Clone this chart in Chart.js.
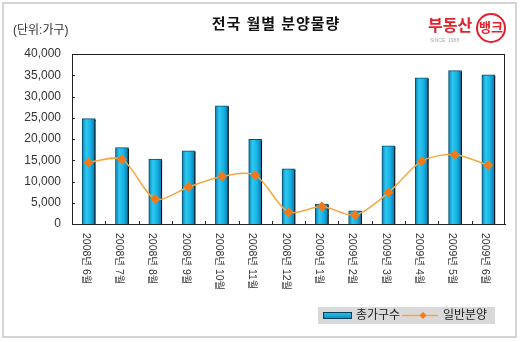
<!DOCTYPE html>
<html>
<head>
<meta charset="utf-8">
<script src="https://cdn.jsdelivr.net/npm/chart.js@4.4.1/dist/chart.umd.min.js"></script>
<style>
    html, body { margin: 0; padding: 0; background: #fff; }
    #wrap { width: 520px; height: 342px; position: relative; }
</style>
</head>
<body>
<div id="wrap"><canvas id="salesChart" width="520" height="342"></canvas></div>
<script>

// 월별 분양 물량 (가구)
const months = [
    "2008년 6월", "2008년 7월", "2008년 8월", "2008년 9월",
    "2008년 10월", "2008년 11월", "2008년 12월", "2009년 1월",
    "2009년 2월", "2009년 3월", "2009년 4월", "2009년 5월", "2009년 6월"
];

const totalUnits = [
    24800, 18000, 15300, 17200, 27800, 19900, 13000,
    4700, 3100, 18400, 34400, 36100, 35100
];

const generalSale = [
    14500, 15200, 5900, 8700, 11200, 11500, 2800,
    4100, 2100, 7400, 14800, 16300, 13800
];

const seriesNames = ["총가구수", "일반분양"];

const yTicks = [0, 5000, 10000, 15000, 20000, 25000, 30000, 35000, 40000];

const KFONT = '"Liberation Sans", "Noto Sans CJK KR", sans-serif';

function barGradient(context) {
    const chart = context.chart;
    if (!chart.chartArea || context.dataIndex === undefined) {
        return "#1cb4e2";
    }
    const x = chart.scales.x.getPixelForValue(context.dataIndex);
    const g = chart.ctx.createLinearGradient(x - 6.5, 0, x + 6.5, 0);
    g.addColorStop(0, "#0b7db0");
    g.addColorStop(0.3, "#2ccaf2");
    g.addColorStop(0.65, "#16b0e2");
    g.addColorStop(1, "#0a74a6");
    return g;
}

// 막대 그림자
const barShadow = {
    id: "barShadow",
    beforeDatasetDraw(chart, args) {
        if (args.index !== 0) return;
        const ctx = chart.ctx;
        ctx.save();
        ctx.shadowColor = "#000";
        ctx.shadowOffsetX = 3;
        ctx.shadowOffsetY = 1;
        ctx.shadowBlur = 0;
    },
    afterDatasetDraw(chart, args) {
        if (args.index !== 0) return;
        chart.ctx.restore();
    }
};

// 제목, 단위, 로고, 축 눈금, x축 라벨, 범례
const decorations = {
    id: "decorations",
    beforeDraw(chart) {
        const ctx = chart.ctx;
        ctx.save();
        ctx.fillStyle = "#fff";
        ctx.fillRect(0, 0, chart.width, chart.height);
        ctx.strokeStyle = "#d4d4d4";
        ctx.lineWidth = 2;
        ctx.strokeRect(3, 3, 513, 334);
        ctx.restore();
    },
    afterDraw(chart) {
        const ctx = chart.ctx;
        const area = chart.chartArea;
        const xs = chart.scales.x;
        const ys = chart.scales.y;

        ctx.save();

        // 제목
        ctx.fillStyle = "#111";
        ctx.font = "bold 15px " + KFONT;
        ctx.letterSpacing = "1px";
        ctx.textAlign = "center";
        ctx.textBaseline = "middle";
        ctx.fillText("전국 월별 분양물량", 276, 25);
        ctx.letterSpacing = "0px";

        // 단위
        ctx.font = "12px " + KFONT;
        ctx.fillStyle = "#333";
        ctx.textAlign = "left";
        ctx.fillText("(단위:가구)", 13, 31);

        // 로고
        ctx.fillStyle = "#e3202b";
        ctx.font = "bold 16px " + KFONT;
        ctx.fillText("부동산", 428, 27);
        ctx.beginPath();
        ctx.arc(491, 28, 14, 0, Math.PI * 2);
        ctx.strokeStyle = "#e3202b";
        ctx.lineWidth = 2;
        ctx.stroke();
        ctx.font = "bold 13px " + KFONT;
        ctx.textAlign = "center";
        ctx.fillText("뱅크", 491, 28);
        ctx.font = "5px " + KFONT;
        ctx.fillStyle = "#aaa";
        ctx.textAlign = "left";
        ctx.fillText("SINCE  1988", 430, 41);

        // 플롯 테두리
        ctx.strokeStyle = "#222";
        ctx.lineWidth = 1;
        ctx.strokeRect(area.left + 0.5, area.top + 0.5, area.right - area.left - 1, area.bottom - area.top);

        // y축 안쪽 눈금
        ctx.beginPath();
        yTicks.forEach(v => {
            const y = Math.round(ys.getPixelForValue(v)) + 0.5;
            ctx.moveTo(area.left, y);
            ctx.lineTo(area.left + 3, y);
        });
        // x축 구간 눈금
        for (let i = 1; i < months.length; i++) {
            const x = Math.round((xs.getPixelForValue(i - 1) + xs.getPixelForValue(i)) / 2) + 0.5;
            ctx.moveTo(x, area.bottom);
            ctx.lineTo(x, area.bottom - 3);
        }
        ctx.stroke();

        // x축 라벨 (세로)
        ctx.fillStyle = "#333";
        ctx.font = "10.5px " + KFONT;
        ctx.textAlign = "left";
        ctx.textBaseline = "middle";
        months.forEach((m, i) => {
            const x = xs.getPixelForValue(i) - 3;
            ctx.save();
            ctx.translate(x, area.bottom + 9);
            ctx.rotate(Math.PI / 2);
            ctx.fillText(m, 0, 0);
            ctx.restore();
        });

        // 범례
        ctx.fillStyle = "#d9d9d9";
        ctx.fillRect(318, 307, 177, 17);
        const ly = 315.5;
        const g = ctx.createLinearGradient(0, 312, 0, 319);
        g.addColorStop(0, "#2ccaf2");
        g.addColorStop(1, "#0a86bb");
        ctx.fillStyle = g;
        ctx.fillRect(323, 312, 29, 7);
        ctx.strokeStyle = "#05405a";
        ctx.strokeRect(323.5, 312.5, 28, 6);

        ctx.fillStyle = "#222";
        ctx.font = "12px " + KFONT;
        ctx.textBaseline = "middle";
        ctx.fillText(chart.data.datasets[0].label, 356, ly);

        ctx.strokeStyle = "#f5a742";
        ctx.lineWidth = 1.5;
        ctx.beginPath();
        ctx.moveTo(402, ly);
        ctx.lineTo(438, ly);
        ctx.stroke();
        ctx.fillStyle = "#f07a1c";
        ctx.beginPath();
        ctx.moveTo(423, ly - 3.5);
        ctx.lineTo(426.5, ly);
        ctx.lineTo(423, ly + 3.5);
        ctx.lineTo(419.5, ly);
        ctx.closePath();
        ctx.fill();

        ctx.fillStyle = "#222";
        ctx.fillText(chart.data.datasets[1].label, 443, ly);

        ctx.restore();
    }
};

new Chart(document.getElementById("salesChart"), {
    type: "bar",
    data: {
        labels: months,
        datasets: [
            {
                label: seriesNames[0],
                data: totalUnits,
                backgroundColor: barGradient,
                borderColor: "#06506f",
                borderWidth: 1,
                borderSkipped: "bottom",
                barThickness: 13,
                order: 1
            },
            {
                type: "line",
                label: seriesNames[1],
                data: generalSale,
                borderColor: "#f5a742",
                borderWidth: 1.5,
                tension: 0.3,
                pointStyle: "rectRot",
                pointRadius: 4,
                pointBackgroundColor: "#f07a1c",
                pointBorderColor: "#f07a1c",
                order: 0
            }
        ]
    },
    options: {
        responsive: false,
        animation: false,
        layout: {
            padding: { top: 54, right: 15, bottom: 0, left: 0 }
        },
        plugins: {
            legend: { display: false },
            tooltip: { enabled: false }
        },
        scales: {
            x: {
                grid: { display: false, drawTicks: false },
                border: { color: "#222" },
                ticks: { display: false },
                afterFit(scale) { scale.height = 118; }
            },
            y: {
                min: 0,
                max: 40000,
                afterBuildTicks(scale) {
                    scale.ticks = yTicks.map(v => ({ value: v }));
                },
                grid: { display: false, drawTicks: false },
                border: { color: "#222" },
                ticks: {
                    padding: 11,
                    color: "#333",
                    font: { family: KFONT, size: 12 },
                    callback: v => v.toLocaleString("en-US")
                },
                afterFit(scale) { scale.width = 72; }
            }
        }
    },
    plugins: [barShadow, decorations]
});

</script>
</body>
</html>
